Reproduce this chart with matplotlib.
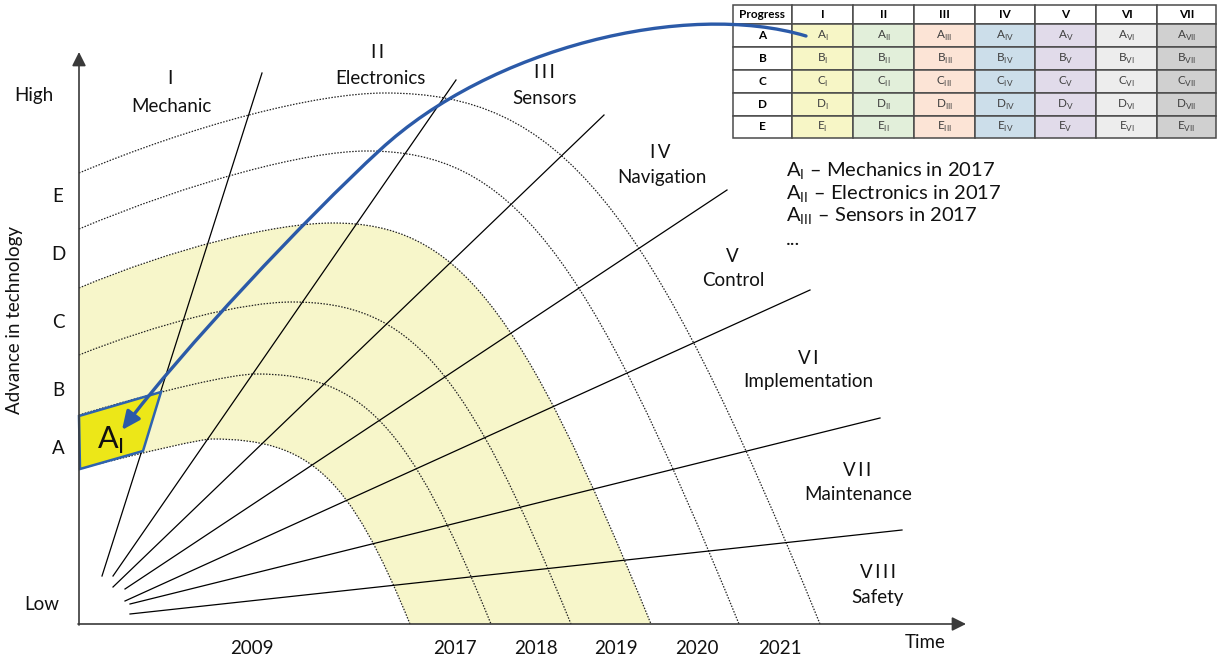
import numpy as np
import matplotlib.pyplot as plt
from matplotlib.path import Path
from matplotlib.patches import PathPatch, Polygon, Rectangle, FancyArrowPatch

plt.rcParams['font.family'] = ['Lato', 'DejaVu Sans']
plt.rcParams['mathtext.fontset'] = 'custom'
plt.rcParams['mathtext.rm'] = 'Lato'

# labels
sector_num = ['I', 'II', 'III', 'IV', 'V', 'VI', 'VII', 'VIII']
sector_name = ['Mechanic', 'Electronics', 'Sensors', 'Navigation', 'Control',
               'Implementation', 'Maintenance', 'Safety']
levels = ['A', 'B', 'C', 'D', 'E']
years = ['2009', '2017', '2018', '2019', '2020', '2021']
table_cols = ['I', 'II', 'III', 'IV', 'V', 'VI', 'VII']
legend_items = [('I', 'Mechanics'), ('II', 'Electronics'), ('III', 'Sensors')]
legend_year = '2017'

# geometry (picture pixels, y down)
x0, y0 = 79, 624
num_xy = [(170, 78), (378, 52), (544, 73), (660, 153), (732, 256), (808, 358), (857, 470), (878, 573)]
name_xy = [(171, 106), (380, 78), (545, 98), (662, 177), (733, 280), (808, 381), (858, 494), (878, 598)]
ray_start = [(102, 576), (113, 576), (113, 587), (125, 589), (125, 601), (130, 604), (130, 614)]
ray_end = [(262, 73), (456, 80), (604, 115), (727, 190), (810, 290), (880, 418), (902, 530)]
arc_y0 = [469, 415, 355, 288, 229, 173]
arc_s0 = [0.26, 0.30, 0.40, 0.42, 0.42, 0.42]
arc_px = [212, 256, 292, 333, 367, 385]
arc_py = [439, 374, 302, 223, 151, 93]
arc_x1 = [410, 491, 571, 651, 739, 820]
level_y = [449, 390, 322, 254, 196]
year_x = [252, 455, 536, 616, 697, 780]
col_x = [733, 792, 853, 914, 975, 1035, 1096, 1157, 1216]
row_y = [5, 24, 47, 70, 93, 116, 138]
col_colors = ['#f7f6c6', '#e2efda', '#fce4d6', '#ccdeea', '#e1dbea', '#ededed', '#d0d0d0']
# connector: start in cell A_I, bend point, arrow tip
link_pts = [(806, 36), (686, 0), (490, 48), (380, 150), (306, 218), (182, 350), (122, 430)]

fig = plt.figure(figsize=(12.18, 6.62), dpi=100)
ax = fig.add_axes([0, 0, 1, 1])
ax.set_xlim(0, 1218)
ax.set_ylim(662, 0)
ax.axis('off')

TXT = '#111111'
FS = 13.5


def arc_verts(i, kl=0.6, kr=0.8, s1=2.45):
    p0 = np.array([x0, arc_y0[i]], float)
    pk = np.array([arc_px[i], arc_py[i]], float)
    p3 = np.array([arc_x1[i], y0], float)
    c1 = np.array([x0 + (arc_y0[i] - arc_py[i]) / arc_s0[i], arc_py[i]])
    c2 = np.array([arc_x1[i] - (y0 - arc_py[i]) / s1, arc_py[i]])
    return [p0, p0 + kl * (c1 - p0), pk + kl * (c1 - pk), pk,
            pk + kr * (c2 - pk), p3 + kr * (c2 - p3), p3]


curve_codes = [Path.MOVETO] + [Path.CURVE4] * 6

# yellow band between arc 1 and arc 4
outer = arc_verts(3)
inner = arc_verts(0)[::-1]
band = outer + inner + [outer[0]]
band_codes = curve_codes + [Path.LINETO] + [Path.CURVE4] * 6 + [Path.CLOSEPOLY]
ax.add_patch(PathPatch(Path(band, band_codes), facecolor='#f7f6ca', edgecolor='none', zorder=1))

# dotted arcs
for i in range(len(arc_y0)):
    ax.add_patch(PathPatch(Path(arc_verts(i), curve_codes), facecolor='none',
                           edgecolor='#222222', lw=0.9, ls=(0, (1.2, 1.2)), zorder=2))

# rays
for (xs, ys), (xe, ye) in zip(ray_start, ray_end):
    ax.plot([xs, xe], [ys, ye], color='black', lw=0.9, zorder=3)

# A_I highlighted cell
ax.add_patch(Polygon([(79, 416), (161, 392), (143, 451), (80, 469)], closed=True,
                     facecolor='#ece718', edgecolor='#2e63b0', lw=1.8, zorder=4))
ax.text(111, 440, r'A$_{\mathregular{I}}$', fontsize=22, ha='center', va='center',
        color=TXT, zorder=5)

# axes arrows
ax_kw = dict(arrowstyle='-|>,head_length=0.6,head_width=0.3', color='#3a3a3a', lw=1.2,
             mutation_scale=14, shrinkA=0, shrinkB=0)
ax.annotate('', xy=(x0, 52), xytext=(x0, y0 + 1), arrowprops=ax_kw, zorder=6)
ax.annotate('', xy=(966, y0), xytext=(x0 - 1, y0), arrowprops=ax_kw, zorder=6)

# sector labels
for s, n, (nx, ny), (tx, ty) in zip(sector_num, sector_name, num_xy, name_xy):
    ax.text(nx, ny, '\u2009'.join(s), fontsize=FS, ha='center', va='center', color=TXT)
    ax.text(tx, ty, n, fontsize=FS, ha='center', va='center', color=TXT)

# y axis labels
ax.text(34, 95, 'High', fontsize=FS, ha='center', va='center', color=TXT)
ax.text(42, 604, 'Low', fontsize=FS, ha='center', va='center', color=TXT)
for lv, ly in zip(levels, level_y):
    ax.text(58, ly, lv, fontsize=FS, ha='center', va='center', color=TXT)
ax.text(15, 320, 'Advance in technology', fontsize=FS, rotation=90,
        ha='center', va='center', color=TXT)

# x axis labels
for yr, xx in zip(years, year_x):
    ax.text(xx, 648, yr, fontsize=FS, ha='center', va='center', color=TXT)
ax.text(925, 642, 'Time', fontsize=FS, ha='center', va='center', color=TXT)

# legend text
for k, (num, name) in enumerate(legend_items):
    ax.text(786, 177 + 22.5 * k, r'A$_{\mathregular{%s}}$ – %s in %s' % (num, name, legend_year),
            fontsize=14.5, ha='left', va='baseline', color=TXT)
ax.text(786, 245, '...', fontsize=14.5, ha='left', va='baseline', color=TXT)

# progress table
header = ['Progress'] + table_cols
for c in range(len(header)):
    xl, xr = col_x[c], col_x[c + 1]
    for r in range(len(levels) + 1):
        yt, yb = row_y[r], row_y[r + 1]
        fc = 'white' if (c == 0 or r == 0) else col_colors[c - 1]
        ax.add_patch(Rectangle((xl, yt), xr - xl, yb - yt, facecolor=fc,
                               edgecolor='#4a4a4a', lw=1.1, zorder=8))
        cx, cy = (xl + xr) / 2, (yt + yb) / 2
        if r == 0:
            ax.text(cx, cy, header[c], fontsize=8.5, fontweight='bold', ha='center',
                    va='center', color='black', zorder=9)
        elif c == 0:
            ax.text(cx, cy, levels[r - 1], fontsize=8.5, fontweight='bold', ha='center',
                    va='center', color='black', zorder=9)
        else:
            ax.text(cx, cy, r'%s$_{\mathregular{%s}}$' % (levels[r - 1], table_cols[c - 1]),
                    fontsize=8.5, ha='center', va='center', color='#404040', zorder=9)

# blue connector from table to A_I (drawn over the table)
blue = Path(link_pts, [Path.MOVETO] + [Path.CURVE4] * 6)
ax.add_patch(FancyArrowPatch(path=blue, arrowstyle='-|>,head_length=0.55,head_width=0.25',
                             mutation_scale=20, color='#2b5aa8', lw=2.4, zorder=10))

fig.savefig('out.png', dpi=100)
